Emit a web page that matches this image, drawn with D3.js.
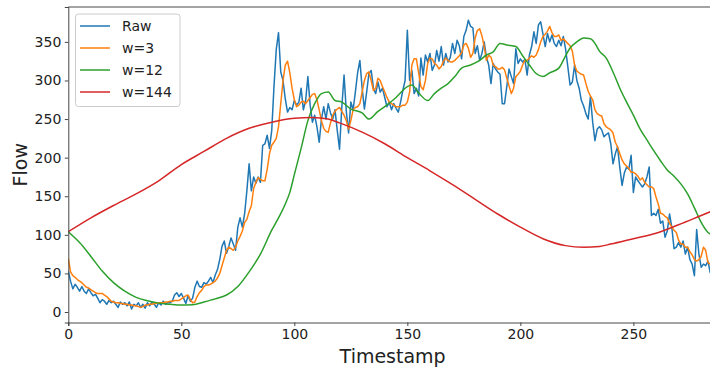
<!DOCTYPE html>
<html>
<head>
<meta charset="utf-8">
<script src="https://cdn.jsdelivr.net/npm/d3@7"></script>
<style>
  body { margin: 0; background: #fff; }
  svg text { font-family: "DejaVu Sans", sans-serif; fill: #222; }
</style>
</head>
<body>
<svg id="chart" width="710" height="371"></svg>
<script>
// series; raw and w=3 have one value per timestamp (0..285)
const raw = [53,40,30,36,32,27,33,27,24,30,
  25,21,23,18,12,16,14,10,15,12,
  14,10,6,13,10,12,8,13,4,10,
  8,12,6,10,5,12,8,13,10,6,
  12,9,14,10,12,12,14,22,25,20,
  24,18,11,21,14,18,32,40,33,32,
  38,36,40,45,38,48,55,68,85,92,
  76,85,96,88,80,110,122,110,127,157,
  192,157,175,167,175,168,216,218,229,212,
  235,292,340,362,311,300,276,259,265,262,
  274,268,272,290,262,274,305,268,246,255,
  240,220,250,266,250,270,258,250,262,235,
  211,265,307,260,232,272,262,285,310,326,
  290,263,285,309,313,290,283,298,285,290,
  278,266,272,262,270,264,259,272,287,300,
  365,300,313,283,290,280,329,307,333,324,
  335,313,320,339,325,344,320,335,324,330,
  348,335,352,345,328,357,365,378,370,368,
  335,345,326,335,350,330,320,296,322,315,
  311,308,270,270,292,315,305,296,341,322,
  328,324,327,307,333,344,363,348,372,376,
  360,344,361,350,359,348,344,352,345,357,
  341,318,294,298,320,300,290,274,267,257,
  250,279,246,222,237,240,236,227,230,232,
  218,192,205,214,187,164,180,188,185,203,
  155,175,170,166,162,166,175,188,125,128,
  125,133,115,118,97,105,127,110,82,84,
  90,84,92,75,84,68,62,47,107,75,
  58,62,60,66,51,53];

const w3 = [69,52,47,45,42,40,38,35,32,31,
  29,27,25,24,24,24,22,20,17,14,
  13,12,12,11,11,10,10,9,9,8,
  8,7,6,7,9,9,10,10,11,11,
  12,12,12,13,13,14,14,15,15,15,
  17,19,21,22,16,12,13,20,25,28,
  33,35,35,36,38,40,44,50,60,70,
  80,84,82,80,84,92,98,105,116,120,
  130,138,160,168,174,172,170,170,185,205,
  216,220,225,240,270,300,320,325,310,290,
  275,266,268,272,273,270,274,278,282,283,
  275,262,248,238,234,233,245,255,260,263,
  265,260,255,248,237,248,262,265,266,270,
  285,300,309,311,300,287,290,303,300,292,
  285,278,272,270,268,266,266,266,268,268,
  272,285,320,328,328,310,292,288,300,322,
  329,328,322,320,315,318,325,329,326,324,
  324,326,329,332,336,346,348,342,330,335,
  355,365,367,358,344,326,333,330,320,318,
  315,315,317,314,303,293,283,290,305,308,
  312,320,326,326,329,332,330,333,340,350,
  357,360,364,370,362,357,357,359,352,354,
  351,348,345,338,320,312,310,308,307,296,
  286,280,275,262,257,255,254,244,240,238,
  236,232,220,214,205,197,192,189,186,181,
  181,179,176,171,174,168,165,162,162,160,
  149,140,128,127,124,122,115,110,106,103,
  93,88,88,84,84,78,74,68,66,68,
  72,84,80,64,62,62];

// smooth series, sampled at these timestamps
const w12T = [0,5,10,15,20,25,30,35,40,45,50,55,60,65,70,75,80,85,90,93,
  96,98,100,103,106,109,112,115,118,121,125,130,133,137,140,145,150,152,155,159,
  162,165,168,171,174,178,182,185,188,191,194,198,201,204,207,210,213,217,220,222,
  225,228,231,233,235,238,241,244,247,250,253,256,259,262,265,268,271,274,277,280,
  283,285];
const w12V = [104,90,72,53,38,27,19,14.5,11.5,10,9,9.5,13,17,22,33,52,75,106,122,
  140,155,178,212,248,270,283,285,274,272,263,258,250,260,266,278,292,294,284,274,
  283,290,296,305,316,320,326,333,337,348,346,344,332,320,309,305,310,316,332,342,
  350,355,354,348,338,329,311,290,272,255,237,223,209,196,184,176,166,153,135,116,
  103,100];

const w144T = [0,10,20,30,40,50,60,70,80,90,100,108,115,120,130,140,150,160,170,180,
  190,200,210,220,228,235,240,250,260,270,280,285];
const w144V = [104,122,138,153,170,191,208,225,238,246,251,252,250,245,233,218,200,183,165,146,
  127,110,95,86,84,85,88,95,102,113,125,131];

const seriesNames = ["Raw", "w=3", "w=12", "w=144"];
const colors = ["#1f77b4", "#ff7f0e", "#2ca02c", "#d62728"];
const xTicks = [0, 50, 100, 150, 200, 250];
const yTicks = [0, 50, 100, 150, 200, 250, 300, 350];

const margin = { left: 68.3, top: 7, right: 717, bottom: 322.5 };

const svg = d3.select("#chart");

const x = d3.scaleLinear().domain([0, 287]).range([margin.left, margin.right]);
const y = d3.scaleLinear().domain([-13.6, 395.2]).range([margin.bottom, margin.top]);

svg.append("clipPath").attr("id", "plot-clip")
  .append("rect")
  .attr("x", margin.left).attr("y", margin.top)
  .attr("width", margin.right - margin.left)
  .attr("height", margin.bottom - margin.top);

const series = [
  raw.map((v, i) => [i, v]),
  w3.map((v, i) => [i, v]),
  w12T.map((t, i) => [t, w12V[i]]),
  w144T.map((t, i) => [t, w144V[i]])
];
// the two long windows are drawn as smooth curves through their samples
const curves = [d3.curveLinear, d3.curveLinear, d3.curveMonotoneX, d3.curveMonotoneX];

const plot = svg.append("g").attr("clip-path", "url(#plot-clip)");

series.forEach((s, i) => {
  const line = d3.line()
    .x(d => x(d[0]))
    .y(d => y(d[1]))
    .curve(curves[i]);
  plot.append("path")
    .datum(s)
    .attr("d", line)
    .attr("fill", "none")
    .attr("stroke", colors[i])
    .attr("stroke-width", 1.5)
    .attr("stroke-linejoin", "round");
});

// axes
const xAxis = svg.append("g")
  .attr("transform", "translate(0," + margin.bottom + ")")
  .call(d3.axisBottom(x).tickValues(xTicks).tickSize(3.5).tickPadding(3.5));
const yAxis = svg.append("g")
  .attr("transform", "translate(" + margin.left + ",0)")
  .call(d3.axisLeft(y).tickValues(yTicks).tickSize(3.5).tickPadding(3.5));

[xAxis, yAxis].forEach(a => {
  a.select(".domain").attr("stroke", "#333").attr("stroke-width", 0.9);
  a.selectAll(".tick line").attr("stroke", "#333").attr("stroke-width", 0.9);
  a.selectAll(".tick text")
    .style("font-family", "DejaVu Sans")
    .style("font-size", "14px")
    .attr("fill", "#222");
});

// top spine (right spine falls outside the window)
svg.append("line")
  .attr("x1", margin.left).attr("x2", margin.right)
  .attr("y1", margin.top).attr("y2", margin.top)
  .attr("stroke", "#333").attr("stroke-width", 0.9);

// axis titles
svg.append("text")
  .attr("x", (margin.left + margin.right) / 2)
  .attr("y", 363)
  .attr("text-anchor", "middle")
  .style("font-size", "19px")
  .text("Timestamp");

svg.append("text")
  .attr("transform", "translate(27," + (margin.top + margin.bottom) / 2 + ") rotate(-90)")
  .attr("text-anchor", "middle")
  .style("font-size", "19px")
  .text("Flow");

// legend
const legend = svg.append("g");
legend.append("rect")
  .attr("x", 75.5).attr("y", 14)
  .attr("width", 104.5).attr("height", 92.5)
  .attr("rx", 3).attr("ry", 3)
  .attr("fill", "#fff").attr("fill-opacity", 0.8)
  .attr("stroke", "#ccc").attr("stroke-width", 1);

seriesNames.forEach((name, i) => {
  const ly = 26 + i * 22;
  legend.append("line")
    .attr("x1", 80).attr("x2", 110)
    .attr("y1", ly).attr("y2", ly)
    .attr("stroke", colors[i]).attr("stroke-width", 1.5);
  legend.append("text")
    .attr("x", 122).attr("y", ly + 5)
    .style("font-size", "14px")
    .text(name);
});
</script>
</body>
</html>
